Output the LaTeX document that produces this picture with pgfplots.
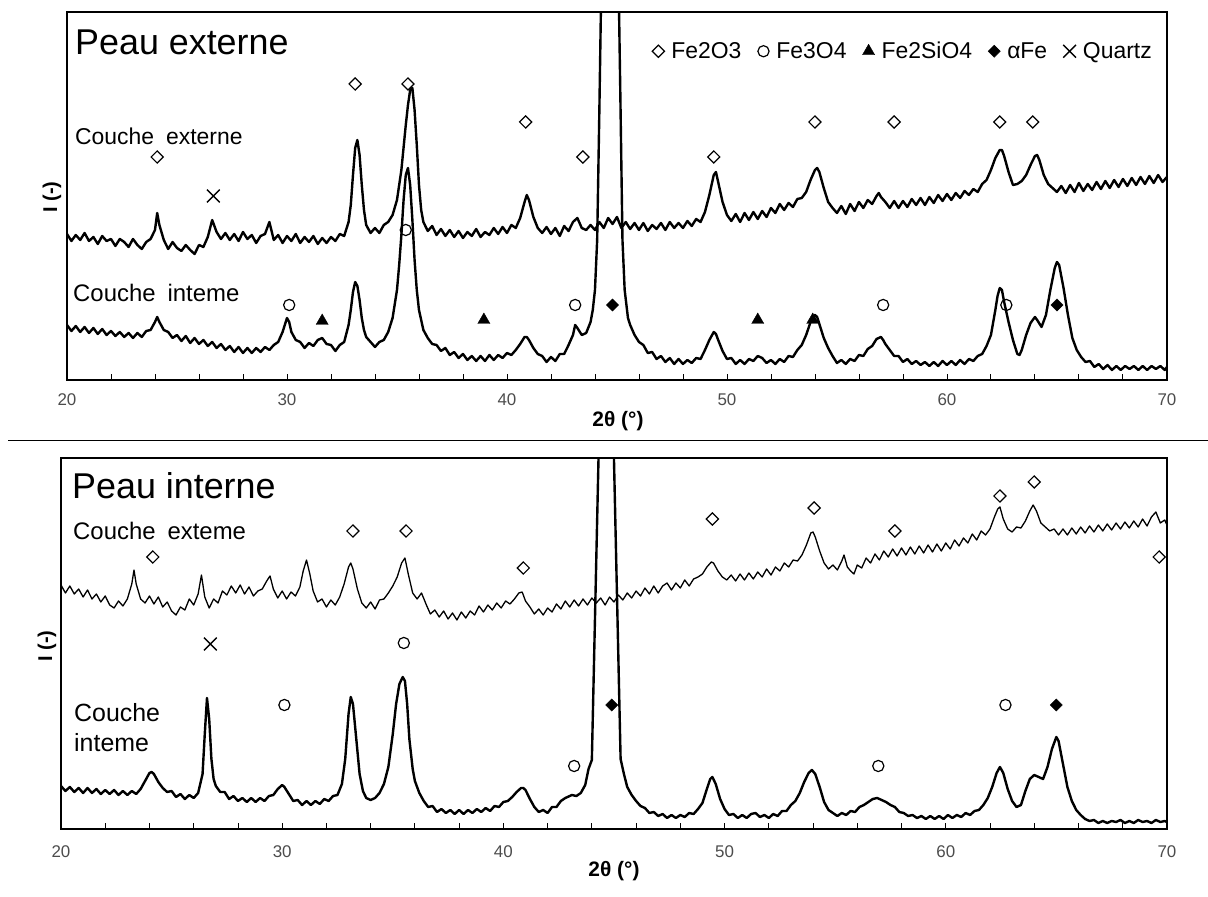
\documentclass[border=0pt]{standalone}
\usepackage{fontspec}
\setmainfont{Liberation Sans}
\usepackage{pgfplots}
\pgfplotsset{compat=1.18}
\begin{document}
\begin{tikzpicture}
\useasboundingbox (0,0) rectangle (1208bp,897bp);
\pgfplotsset{
  panel/.style={scale only axis, anchor=south west, xmin=20, xmax=70, ymin=0,
    xtick={20,30,...,70}, minor xtick={22,24,...,68}, ytick=\empty,
    xtick pos=left, tick align=inside, major tick length=6bp, minor tick length=6bp,
    tick style={black, line width=0.9bp}, axis line style={line width=1.3bp},
    /pgf/number format/assume math mode=true,
    xticklabel style={font=\fontsize{17}{17}\selectfont, text=black!70, inner sep=0pt}},
  trace/.style={black, line width=2.4bp, line join=round, forget plot, mark=none},
  fehem/.style={black, only marks, mark=square, mark size=4.3bp, mark options={rotate=45, line width=1.2bp}},
  femag/.style={black, only marks, mark=o, mark size=5.6bp, mark options={line width=1.2bp}},
  fesil/.style={black, only marks, mark=triangle*, mark size=7bp, mark options={fill=black}},
  fealpha/.style={black, only marks, mark=square*, mark size=4.3bp, mark options={rotate=45, fill=black}},
  quartz/.style={black, only marks, mark=x, mark size=9bp, mark options={line width=1.4bp}},
}
% ---------------- top panel ----------------
\begin{axis}[panel, at={(67bp,517bp)}, width=1100bp, height=368bp, ymax=368,
  xticklabel style={yshift=-13bp},
  legend columns=-1,
  legend style={draw=none, fill=none, at={(1,1)}, anchor=north east, xshift=-14bp, yshift=-29bp,
    font=\fontsize{23}{23}\selectfont, inner sep=0pt, nodes={inner xsep=1bp, inner ysep=1bp},
    /tikz/every odd column/.append style={column sep=6bp},
    /tikz/every even column/.append style={column sep=15bp}},
  legend image code/.code={\path[draw=none, fill=none] (-6bp,-6bp) rectangle (6bp,6bp); \draw[#1] plot coordinates {(0bp,0bp)};}]
\addplot[trace] coordinates {(20,146)(20.2,139)(20.4,145)(20.6,140)(20.8,147)(21,139)(21.2,143)(21.4,136)(21.6,144)(21.8,139)(22,141)(22.2,134)(22.4,141)(22.6,138)(22.8,133)(23,141)(23.2,135)(23.4,131)(23.6,138)(23.8,141)(24,150)(24.1,167)(24.2,155)(24.4,140)(24.6,131)(24.8,138)(25,132)(25.2,129)(25.4,135)(25.6,130)(25.8,126)(26,135)(26.2,133)(26.4,143)(26.6,160)(26.8,148)(27,141)(27.2,147)(27.4,140)(27.6,146)(27.8,139)(28,148)(28.2,141)(28.4,145)(28.6,137)(28.8,144)(29,146)(29.2,158)(29.4,140)(29.6,145)(29.8,137)(30,144)(30.2,139)(30.4,146)(30.6,137)(30.8,143)(31,138)(31.2,144)(31.4,136)(31.6,142)(31.8,137)(32,143)(32.2,139)(32.4,146)(32.6,144)(32.8,158)(32.9,175)(33,205)(33.1,232)(33.2,240)(33.3,225)(33.4,195)(33.5,170)(33.6,155)(33.8,147)(34,152)(34.2,147)(34.4,155)(34.6,158)(34.8,165)(35,180)(35.2,210)(35.4,255)(35.5,275)(35.6,290)(35.7,292)(35.8,270)(35.9,235)(36,195)(36.1,170)(36.2,158)(36.4,149)(36.6,154)(36.8,145)(37,151)(37.2,144)(37.4,150)(37.6,143)(37.8,149)(38,142)(38.2,148)(38.4,144)(38.6,151)(38.8,143)(39,148)(39.2,145)(39.4,152)(39.6,146)(39.8,153)(40,147)(40.2,155)(40.4,152)(40.6,162)(40.8,178)(40.9,185)(41,180)(41.2,163)(41.4,152)(41.6,147)(41.8,153)(42,146)(42.2,152)(42.4,144)(42.6,154)(42.8,149)(43,158)(43.2,162)(43.4,152)(43.6,150)(43.8,155)(44,150)(44.2,158)(44.4,152)(44.6,162)(44.8,156)(45,163)(45.2,152)(45.4,158)(45.6,151)(45.8,157)(46,150)(46.2,157)(46.4,149)(46.6,155)(46.8,151)(47,157)(47.2,150)(47.4,158)(47.6,152)(47.8,157)(48,152)(48.2,159)(48.4,154)(48.6,161)(48.8,158)(49,168)(49.2,185)(49.4,205)(49.5,208)(49.6,198)(49.8,178)(50,165)(50.2,159)(50.4,166)(50.6,158)(50.8,167)(51,160)(51.2,168)(51.4,161)(51.6,169)(51.8,163)(52,172)(52.2,167)(52.4,176)(52.6,170)(52.8,177)(53,173)(53.2,181)(53.4,182)(53.6,188)(53.8,200)(54,210)(54.1,212)(54.2,208)(54.4,192)(54.6,178)(54.8,172)(55,167)(55.2,174)(55.4,166)(55.6,176)(55.8,169)(56,178)(56.2,172)(56.4,180)(56.6,176)(56.8,184)(56.9,187)(57,183)(57.2,178)(57.4,172)(57.6,179)(57.8,172)(58,179)(58.2,173)(58.4,181)(58.6,175)(58.8,182)(59,175)(59.2,183)(59.4,177)(59.6,185)(59.8,179)(60,186)(60.2,180)(60.4,187)(60.6,182)(60.8,189)(61,185)(61.2,191)(61.4,188)(61.6,196)(61.8,200)(62,210)(62.2,222)(62.4,230)(62.5,230)(62.6,224)(62.8,208)(63,195)(63.2,196)(63.4,199)(63.6,205)(63.8,215)(64,224)(64.1,225)(64.2,220)(64.4,205)(64.6,196)(64.8,192)(65,188)(65.2,194)(65.4,187)(65.6,195)(65.8,188)(66,197)(66.2,189)(66.4,196)(66.6,190)(66.8,198)(67,191)(67.2,199)(67.4,192)(67.6,200)(67.8,193)(68,201)(68.2,194)(68.4,202)(68.6,195)(68.8,203)(69,196)(69.2,204)(69.4,197)(69.6,205)(69.8,198)(70,203)};
\addplot[trace] coordinates {(20,55)(20.2,49)(20.4,54)(20.6,48)(20.8,53)(21,47)(21.2,52)(21.4,46)(21.6,51)(21.8,45)(22,49)(22.2,44)(22.4,48)(22.6,43)(22.8,47)(23,42)(23.2,47)(23.4,43)(23.6,49)(23.8,50)(24,58)(24.1,63)(24.2,58)(24.4,50)(24.6,48)(24.8,42)(25,45)(25.2,39)(25.4,44)(25.6,37)(25.8,42)(26,36)(26.2,40)(26.4,34)(26.6,38)(26.8,32)(27,36)(27.2,30)(27.4,34)(27.6,28)(27.8,33)(28,27)(28.2,32)(28.4,27)(28.6,32)(28.8,28)(29,33)(29.2,30)(29.4,35)(29.6,38)(29.8,48)(30,62)(30.1,58)(30.2,48)(30.4,40)(30.6,38)(30.8,32)(31,37)(31.2,34)(31.4,40)(31.6,42)(31.8,36)(32,35)(32.2,29)(32.4,35)(32.6,38)(32.8,55)(32.9,70)(33,88)(33.1,98)(33.2,94)(33.3,80)(33.4,62)(33.5,50)(33.6,43)(33.8,38)(34,33)(34.2,38)(34.4,40)(34.6,48)(34.8,62)(35,90)(35.1,115)(35.2,145)(35.3,180)(35.4,205)(35.5,212)(35.6,195)(35.7,160)(35.8,120)(35.9,90)(36,70)(36.2,50)(36.4,42)(36.6,36)(36.8,35)(37,29)(37.2,32)(37.4,25)(37.6,28)(37.8,22)(38,26)(38.2,20)(38.4,24)(38.6,19)(38.8,24)(39,19)(39.2,25)(39.4,20)(39.6,25)(39.8,22)(40,27)(40.2,25)(40.4,30)(40.6,36)(40.8,43)(40.9,43)(41,40)(41.2,32)(41.4,26)(41.6,24)(41.8,18)(42,23)(42.2,19)(42.4,26)(42.6,26)(42.8,35)(43,45)(43.1,55)(43.2,52)(43.4,45)(43.6,47)(43.8,58)(43.9,70)(44,90)(44.1,140)(44.2,270)(44.68,960)(45.15,290)(45.25,140)(45.35,90)(45.5,62)(45.6,55)(45.8,45)(46,38)(46.2,35)(46.4,27)(46.6,28)(46.8,21)(47,24)(47.2,18)(47.4,22)(47.6,16)(47.8,21)(48,16)(48.2,20)(48.4,17)(48.6,22)(48.8,21)(49,30)(49.2,40)(49.4,48)(49.5,46)(49.6,40)(49.8,29)(50,21)(50.2,22)(50.4,16)(50.6,20)(50.8,16)(51,21)(51.2,19)(51.4,24)(51.6,22)(51.8,17)(52,20)(52.2,16)(52.4,21)(52.6,18)(52.8,24)(53,23)(53.2,30)(53.4,35)(53.6,45)(53.8,58)(54,65)(54.1,63)(54.2,56)(54.4,42)(54.6,32)(54.8,24)(55,17)(55.2,20)(55.4,16)(55.6,21)(55.8,19)(56,25)(56.2,24)(56.4,31)(56.6,34)(56.8,41)(57,43)(57.1,40)(57.2,36)(57.4,30)(57.6,24)(57.8,24)(58,18)(58.2,21)(58.4,16)(58.6,19)(58.8,15)(59,18)(59.2,14)(59.4,18)(59.6,14)(59.8,19)(60,15)(60.2,19)(60.4,15)(60.6,20)(60.8,16)(61,21)(61.2,19)(61.4,24)(61.6,26)(61.8,34)(62,45)(62.2,70)(62.3,84)(62.4,92)(62.5,90)(62.6,78)(62.8,58)(63,40)(63.2,26)(63.3,25)(63.4,30)(63.6,45)(63.8,57)(64,63)(64.1,60)(64.3,53)(64.5,65)(64.7,90)(64.9,112)(65,118)(65.1,115)(65.3,92)(65.5,65)(65.7,42)(65.9,30)(66.1,23)(66.3,18)(66.5,19)(66.7,13)(66.9,16)(67.1,11)(67.3,15)(67.5,10)(67.7,14)(67.9,10)(68.1,14)(68.3,11)(68.5,14)(68.7,10)(68.9,14)(69.1,10)(69.3,14)(69.5,11)(69.7,14)(69.9,10)(70,13)};
\addplot[fehem] coordinates {(24.1,223)(33.1,296)(35.5,296)(40.85,258)(43.45,223)(49.4,223)(54.0,258)(57.6,258)(62.4,258)(63.9,258)};
\addlegendentry{Fe2O3}
\addplot[femag] coordinates {(35.4,150)(30.1,75)(43.1,75)(57.1,75)(62.7,75)};
\addlegendentry{Fe3O4}
\addplot[fesil] coordinates {(31.6,59)(38.95,60)(51.4,60)(53.9,60)};
\addlegendentry{Fe2SiO4}
\addplot[fealpha] coordinates {(44.8,75)(65.0,75)};
\addlegendentry{αFe}
\addplot[quartz] coordinates {(26.65,184)};
\addlegendentry{Quartz}
\end{axis}
% ---------------- bottom panel ----------------
\begin{axis}[panel, at={(61bp,68bp)}, width=1106bp, height=371bp, ymax=371,
  xticklabel style={yshift=-16bp}]
\addplot[trace, line width=1.3bp] coordinates {(20,244)(20.2,236)(20.4,243)(20.6,235)(20.8,240)(21,232)(21.2,239)(21.4,230)(21.6,235)(21.8,227)(22,233)(22.2,224)(22.4,221)(22.6,228)(22.8,223)(23,230)(23.2,245)(23.3,259)(23.4,245)(23.6,230)(23.8,226)(24,233)(24.2,225)(24.4,232)(24.6,222)(24.8,227)(25,218)(25.2,214)(25.4,222)(25.6,219)(25.8,230)(26,224)(26.2,235)(26.35,254)(26.5,232)(26.7,221)(26.9,230)(27.1,226)(27.3,238)(27.5,234)(27.7,243)(27.9,236)(28.1,244)(28.3,235)(28.5,242)(28.7,233)(28.9,238)(29.1,240)(29.3,248)(29.45,253)(29.6,240)(29.8,231)(30,238)(30.2,230)(30.4,237)(30.6,233)(30.8,242)(30.95,258)(31.1,269)(31.25,255)(31.4,238)(31.6,227)(31.8,230)(32,222)(32.2,229)(32.4,224)(32.6,232)(32.8,245)(33,262)(33.1,266)(33.2,260)(33.4,240)(33.6,226)(33.8,221)(34,227)(34.2,220)(34.4,229)(34.6,230)(34.8,236)(35,243)(35.2,252)(35.4,266)(35.55,271)(35.7,255)(35.9,236)(36.1,230)(36.3,236)(36.5,225)(36.7,215)(36.9,219)(37.1,212)(37.3,218)(37.5,210)(37.7,216)(37.9,209)(38.1,217)(38.3,211)(38.5,218)(38.7,214)(38.9,223)(39.1,217)(39.3,224)(39.5,219)(39.7,226)(39.9,221)(40.1,228)(40.3,225)(40.5,230)(40.7,236)(40.85,237)(41,228)(41.2,222)(41.4,215)(41.6,220)(41.8,214)(42,221)(42.2,217)(42.4,225)(42.6,220)(42.8,228)(43,222)(43.2,229)(43.4,223)(43.6,230)(43.8,224)(44,231)(44.2,226)(44.4,231)(44.6,224)(44.8,232)(45,227)(45.2,234)(45.4,229)(45.6,236)(45.8,231)(46,238)(46.2,233)(46.4,241)(46.6,235)(46.8,243)(47,236)(47.2,243)(47.4,246)(47.6,239)(47.8,246)(48,241)(48.2,249)(48.4,243)(48.6,250)(48.8,252)(49,255)(49.2,262)(49.4,267)(49.5,266)(49.7,258)(49.9,252)(50.1,249)(50.3,254)(50.5,248)(50.7,255)(50.9,249)(51.1,256)(51.3,250)(51.5,257)(51.7,252)(51.9,260)(52.1,254)(52.3,262)(52.5,258)(52.7,266)(52.9,262)(53.1,269)(53.3,268)(53.5,274)(53.7,284)(53.9,296)(54,297)(54.1,292)(54.3,278)(54.5,266)(54.7,260)(54.9,264)(55.1,259)(55.3,268)(55.4,274)(55.55,262)(55.7,258)(55.85,255)(56,264)(56.2,261)(56.4,271)(56.6,266)(56.8,275)(57,269)(57.2,278)(57.4,272)(57.6,280)(57.8,273)(58,281)(58.2,274)(58.4,282)(58.6,275)(58.8,283)(59,276)(59.2,284)(59.4,277)(59.6,285)(59.8,278)(60,286)(60.2,280)(60.4,289)(60.6,283)(60.8,291)(61,286)(61.2,295)(61.4,289)(61.6,298)(61.8,294)(62,300)(62.2,312)(62.35,320)(62.45,322)(62.6,310)(62.8,300)(63,297)(63.2,302)(63.4,301)(63.6,308)(63.8,318)(63.95,324)(64.1,318)(64.3,306)(64.5,302)(64.7,298)(64.9,300)(65.1,294)(65.3,300)(65.5,294)(65.7,301)(65.9,295)(66.1,302)(66.3,296)(66.5,303)(66.7,297)(66.9,304)(67.1,298)(67.3,305)(67.5,299)(67.7,306)(67.9,300)(68.1,307)(68.3,301)(68.5,308)(68.7,302)(68.9,310)(69.1,303)(69.3,312)(69.5,317)(69.7,306)(69.9,309)(70,304)};
\addplot[trace] coordinates {(20,43)(20.2,38)(20.4,42)(20.6,37)(20.8,41)(21,36)(21.2,41)(21.4,36)(21.6,40)(21.8,35)(22,39)(22.2,35)(22.4,39)(22.6,34)(22.8,38)(23,34)(23.2,38)(23.4,35)(23.6,40)(23.8,48)(24,56)(24.1,57)(24.2,55)(24.4,47)(24.6,41)(24.8,37)(25,38)(25.2,32)(25.4,35)(25.6,30)(25.8,34)(26,31)(26.2,36)(26.4,55)(26.5,95)(26.6,131)(26.7,110)(26.8,70)(26.9,50)(27,43)(27.2,37)(27.4,37)(27.6,30)(27.8,33)(28,28)(28.2,31)(28.4,27)(28.6,31)(28.8,27)(29,31)(29.2,28)(29.4,33)(29.6,34)(29.8,40)(30,44)(30.1,42)(30.3,35)(30.5,28)(30.7,29)(30.9,24)(31.1,28)(31.3,24)(31.5,28)(31.7,25)(31.9,30)(32.1,28)(32.3,33)(32.5,34)(32.7,45)(32.85,70)(33,115)(33.1,132)(33.2,125)(33.35,90)(33.5,55)(33.65,38)(33.8,31)(34,29)(34.2,31)(34.4,36)(34.6,45)(34.8,62)(35,95)(35.15,125)(35.3,145)(35.45,152)(35.55,148)(35.65,125)(35.75,90)(35.9,60)(36,48)(36.2,36)(36.4,28)(36.6,22)(36.8,23)(37,17)(37.2,20)(37.4,16)(37.6,19)(37.8,15)(38,19)(38.2,15)(38.4,19)(38.6,16)(38.8,20)(39,17)(39.2,21)(39.4,18)(39.6,23)(39.8,22)(40,27)(40.2,28)(40.4,32)(40.6,37)(40.8,41)(40.9,41)(41,39)(41.2,30)(41.4,22)(41.6,17)(41.8,19)(42,16)(42.2,22)(42.4,22)(42.6,28)(42.8,31)(43,33)(43.1,34)(43.3,33)(43.5,36)(43.7,44)(43.85,60)(44,69)(44.65,720)(45.3,70)(45.45,55)(45.6,42)(45.8,34)(46,28)(46.2,23)(46.4,21)(46.6,16)(46.8,17)(47,13)(47.2,15)(47.4,11)(47.6,14)(47.8,11)(48,14)(48.2,12)(48.4,16)(48.6,15)(48.8,20)(49,26)(49.2,40)(49.35,50)(49.45,52)(49.6,45)(49.8,30)(50,20)(50.2,14)(50.4,15)(50.6,11)(50.8,14)(51,11)(51.2,15)(51.4,16)(51.6,12)(51.8,14)(52,11)(52.2,15)(52.4,13)(52.6,18)(52.8,18)(53,24)(53.2,28)(53.4,36)(53.6,47)(53.8,56)(53.95,59)(54.1,55)(54.3,42)(54.5,27)(54.7,19)(54.9,16)(55.1,13)(55.3,16)(55.5,14)(55.7,18)(55.9,17)(56.1,22)(56.3,24)(56.5,27)(56.7,30)(56.9,31)(57.1,29)(57.3,27)(57.5,24)(57.7,22)(57.9,17)(58.1,16)(58.3,13)(58.5,14)(58.7,11)(58.9,13)(59.1,10)(59.3,13)(59.5,10)(59.7,13)(59.9,10)(60.1,14)(60.3,11)(60.5,14)(60.7,12)(60.9,16)(61.1,14)(61.3,18)(61.5,19)(61.7,24)(61.9,31)(62.1,42)(62.3,56)(62.45,62)(62.6,56)(62.8,40)(63,28)(63.2,22)(63.4,24)(63.6,38)(63.8,50)(64,54)(64.2,52)(64.4,50)(64.6,62)(64.8,80)(65,92)(65.1,88)(65.3,65)(65.5,42)(65.7,28)(65.9,19)(66.1,14)(66.3,10)(66.5,8)(66.7,9)(66.9,6)(67.1,8)(67.3,6)(67.5,8)(67.7,7)(67.9,9)(68.1,6)(68.3,8)(68.5,6)(68.7,9)(68.9,7)(69.1,8)(69.3,6)(69.5,9)(69.7,7)(69.9,8)(70,7)};
\addplot[fehem] coordinates {(24.15,272)(33.2,298)(35.6,298)(40.9,261)(49.45,310)(54.05,321)(57.7,298)(62.45,333)(64.0,347)(69.65,272)};
\addplot[femag] coordinates {(35.5,186)(30.1,124)(43.2,63)(56.95,63)(62.7,124)};
\addplot[fealpha] coordinates {(44.9,124)(65.0,124)};
\addplot[quartz] coordinates {(26.75,185)};
\end{axis}
% ---------------- texts ----------------
\node[anchor=base west, inner sep=0pt, font=\fontsize{36}{36}\selectfont] at (75bp,842bp) {Peau externe};
\node[anchor=base west, inner sep=0pt, font=\fontsize{23}{23}\selectfont] at (75bp,752bp) {Couche\hspace{12bp}externe};
\node[anchor=base west, inner sep=0pt, font=\fontsize{24}{24}\selectfont] at (73bp,595bp) {Couche\hspace{12bp}inteme};
\node[anchor=base west, inner sep=0pt, font=\fontsize{36}{36}\selectfont] at (72bp,398bp) {Peau interne};
\node[anchor=base west, inner sep=0pt, font=\fontsize{24}{24}\selectfont] at (73bp,357bp) {Couche\hspace{12bp}exteme};
\node[anchor=base west, inner sep=0pt, font=\fontsize{25}{25}\selectfont] at (74bp,175bp) {Couche};
\node[anchor=base west, inner sep=0pt, font=\fontsize{25}{25}\selectfont] at (74bp,145bp) {inteme};
\node[rotate=90, font=\bfseries\fontsize{20}{20}\selectfont] at (52bp,700bp) {I (-)};
\node[rotate=90, font=\bfseries\fontsize{20}{20}\selectfont] at (47bp,251bp) {I (-)};
\node[font=\bfseries\fontsize{21}{21}\selectfont] at (618bp,476bp) {2θ (°)};
\node[font=\bfseries\fontsize{21}{21}\selectfont] at (614bp,26bp) {2θ (°)};
\draw[line width=1bp] (8bp,456.5bp) -- (1208bp,456.5bp);
\end{tikzpicture}
\end{document}
